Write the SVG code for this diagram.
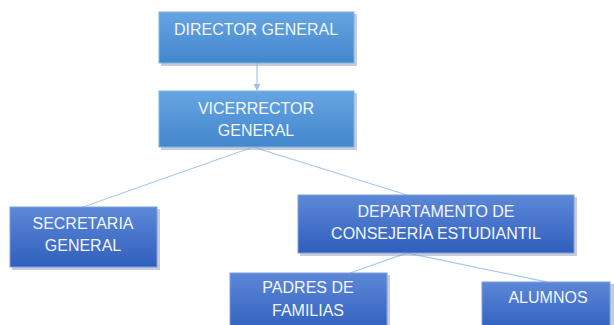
<svg xmlns="http://www.w3.org/2000/svg" width="614" height="325" viewBox="0 0 614 325">
<defs>
<linearGradient id="gLight" x1="0" y1="0" x2="0" y2="1">
<stop offset="0" stop-color="#67a5e2"/>
<stop offset="1" stop-color="#4286cc"/>
</linearGradient>
<linearGradient id="gDark" x1="0" y1="0" x2="0" y2="1">
<stop offset="0" stop-color="#5d88d8"/>
<stop offset="1" stop-color="#2f5fbd"/>
</linearGradient>
<marker id="arr" viewBox="0 0 10 10" refX="9" refY="5" markerWidth="7" markerHeight="7" orient="auto" markerUnits="userSpaceOnUse">
<path d="M0,0 L10,5 L0,10 z" fill="#9cc2e8"/>
</marker>
</defs>
<style>
.shadow{fill:#9aa3b5;opacity:0.55}
.light{fill:url(#gLight);stroke:#7fb3e6;stroke-width:1}
.dark{fill:url(#gDark);stroke:#7d9fe0;stroke-width:1}
.lbl{font-family:"Liberation Sans",Arial,sans-serif;font-size:16px;fill:#f2f6ff;text-anchor:middle;dominant-baseline:central}
.conn{stroke:#a9cbec;stroke-width:1.3;fill:none}
</style>
<g id="connectors">
<line class="conn" x1="257" y1="63" x2="257" y2="90" marker-end="url(#arr)"/>
<line class="conn" x1="253" y1="147" x2="83" y2="207"/>
<line class="conn" x1="253" y1="147" x2="407" y2="195"/>
<line class="conn" x1="407" y1="253" x2="350" y2="273"/>
<line class="conn" x1="407" y1="253" x2="547" y2="282"/>
</g>
<g id="director">
<rect class="shadow" x="161" y="14" width="196" height="52"/>
<rect class="light" x="159" y="12" width="195" height="51"/>
<text class="lbl" x="256" y="29">DIRECTOR GENERAL</text>
</g>
<g id="vicerrector">
<rect class="shadow" x="161" y="93" width="196" height="57"/>
<rect class="light" x="159" y="91" width="195" height="56"/>
<text class="lbl" x="256" y="108">VICERRECTOR</text>
<text class="lbl" x="256" y="130">GENERAL</text>
</g>
<g id="secretaria">
<rect class="shadow" x="12" y="209" width="148" height="61"/>
<rect class="dark" x="10" y="207" width="147" height="60"/>
<text class="lbl" x="83" y="223">SECRETARIA</text>
<text class="lbl" x="83" y="245">GENERAL</text>
</g>
<g id="departamento">
<rect class="shadow" x="300" y="197" width="277" height="59"/>
<rect class="dark" x="298" y="195" width="276" height="58"/>
<text class="lbl" x="436" y="211">DEPARTAMENTO DE</text>
<text class="lbl" x="436" y="233">CONSEJERÍA ESTUDIANTIL</text>
</g>
<g id="padres">
<rect class="shadow" x="232" y="275" width="158" height="60"/>
<rect class="dark" x="230" y="273" width="157" height="60"/>
<text class="lbl" x="308" y="287">PADRES DE</text>
<text class="lbl" x="308" y="310">FAMILIAS</text>
</g>
<g id="alumnos">
<rect class="shadow" x="484" y="284" width="130" height="50"/>
<rect class="dark" x="482" y="282" width="128" height="50"/>
<text class="lbl" x="548" y="297">ALUMNOS</text>
</g>
</svg>
